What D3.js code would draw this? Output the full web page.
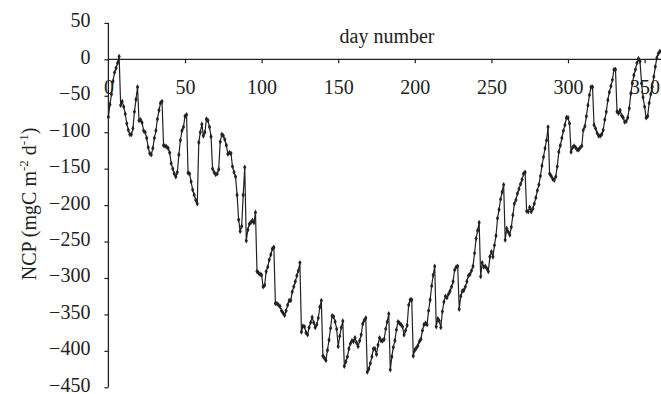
<!DOCTYPE html>
<html lang="en">
<head>
<meta charset="UTF-8">
<title>NCP by day</title>
<script src="https://d3js.org/d3.v7.min.js"></script>
<style>
    body { margin: 0; background: #fff; }
    text { font-family: "Liberation Serif", "Times New Roman", serif; fill: #222; }
</style>
</head>
<body>
<script>
    // NCP (mgC m-2 d-1), one value per day starting at day 0
    const ncp = [
        -79, -62, -48, -30, -18, -12, -5, 4, -63, -58,
        -65, -75, -88, -97, -103, -103, -95, -72, -55, -38,
        -84, -83, -87, -98, -100, -108, -121, -129, -131, -122,
        -108, -98, -82, -70, -60, -58, -118, -119, -120, -122,
        -128, -143, -150, -157, -161, -155, -131, -111, -98, -93,
        -78, -76, -156, -157, -168, -179, -186, -193, -198, -114,
        -100, -89, -105, -100, -82, -84, -93, -106, -150, -155,
        -158, -157, -151, -113, -103, -105, -110, -118, -130, -128,
        -129, -147, -155, -161, -186, -220, -236, -229, -186, -148,
        -249, -234, -226, -224, -221, -224, -210, -291, -293, -295,
        -296, -312, -310, -291, -285, -275, -268, -260, -258, -335,
        -335, -337, -339, -345, -348, -351, -345, -337, -331, -331,
        -319, -312, -305, -297, -290, -279, -374, -366, -367, -375,
        -378, -368, -361, -354, -361, -368, -364, -355, -340, -331,
        -407, -410, -413, -399, -385, -369, -352, -353, -360, -370,
        -394, -380, -368, -359, -421, -415, -408, -397, -390, -386,
        -387, -382, -389, -394, -386, -378, -363, -358, -355, -429,
        -425, -417, -408, -397, -397, -405, -392, -382, -386, -386,
        -384, -370, -360, -349, -426, -408, -395, -386, -371, -360,
        -362, -364, -367, -378, -372, -365, -337, -330, -330, -407,
        -399, -396, -393, -387, -384, -372, -364, -362, -364, -345,
        -330, -311, -296, -284, -367, -356, -359, -368, -346, -333,
        -325, -327, -322, -318, -312, -305, -289, -285, -284, -343,
        -325, -318, -317, -312, -305, -297, -295, -290, -284, -266,
        -246, -235, -224, -298, -279, -285, -284, -287, -291, -271,
        -264, -271, -255, -242, -218, -206, -192, -182, -172, -248,
        -232, -237, -241, -230, -214, -198, -193, -184, -178, -171,
        -165, -157, -155, -208, -209, -203, -209, -205, -198, -190,
        -180, -172, -160, -146, -134, -122, -111, -93, -157, -160,
        -164, -166, -161, -147, -127, -118, -108, -98, -90, -80,
        -80, -88, -127, -121, -119, -121, -124, -124, -121, -119,
        -97, -92, -78, -63, -49, -38, -38, -90, -95, -101,
        -105, -105, -103, -97, -83, -72, -56, -45, -37, -28,
        -14, -14, -72, -74, -70, -77, -80, -86, -85, -80,
        -67, -47, -33, -22, -14, -5, 1, -3, -33, -52,
        -65, -80, -78, -60, -48, -38, -24, -10, 2, 8,
        11
    ];
    const days = ncp.map((v, i) => i);

    const xTicks = [0, 50, 100, 150, 200, 250, 300, 350];
    const yTicks = [50, 0, -50, -100, -150, -200, -250, -300, -350, -400, -450];

    const width = 661, height = 394;

    const svg = d3.select("body").append("svg")
        .attr("width", width)
        .attr("height", height);

    const x = d3.scaleLinear().domain([0, 350]).range([108.4, 644.6]);
    const y = d3.scaleLinear().domain([-450, 50]).range([387.3, 22.9]);

    // y axis
    const yAxis = svg.append("g")
        .attr("transform", `translate(${x(0)},0)`)
        .call(d3.axisLeft(y).tickValues(yTicks).tickSize(4).tickPadding(14)
            .tickFormat(d3.format("d")));
    yAxis.select(".domain").attr("stroke", "#222").attr("stroke-width", 1.3)
        .attr("d", `M0,${y(50)}V${y(-450)}`);
    yAxis.selectAll(".tick line").attr("stroke", "#222").attr("stroke-width", 1.2);
    yAxis.selectAll(".tick text")
        .attr("font-size", 20)
        .attr("font-family", "Liberation Serif, Times New Roman, serif")
        .attr("fill", "#222")
        .attr("dy", "0.2em");

    // x axis sits on the zero line
    const xAxis = svg.append("g")
        .attr("transform", `translate(0,${y(0)})`)
        .call(d3.axisBottom(x).tickValues(xTicks).tickSize(4).tickPadding(16)
            .tickFormat(d3.format("d")));
    xAxis.select(".domain").attr("stroke", "#222").attr("stroke-width", 1.3)
        .attr("d", `M${x(0)},0H${width}`);
    xAxis.selectAll(".tick line").attr("stroke", "#222").attr("stroke-width", 1.2)
        .filter(d => d === 0).remove();
    xAxis.selectAll(".tick text")
        .attr("font-size", 20)
        .attr("font-family", "Liberation Serif, Times New Roman, serif")
        .attr("fill", "#222")
        .attr("dy", "0.71em");

    svg.append("text")
        .attr("x", 387)
        .attr("y", 43)
        .attr("text-anchor", "middle")
        .attr("font-size", 20)
        .text("day number");

    const title = svg.append("text")
        .attr("transform", "translate(36,204) rotate(-90)")
        .attr("text-anchor", "middle")
        .attr("font-size", 20);
    title.append("tspan").text("NCP (mgC m");
    title.append("tspan").attr("font-size", 13).attr("dy", -8).text("-2");
    title.append("tspan").attr("dy", 8).text(" d");
    title.append("tspan").attr("font-size", 13).attr("dy", -8).text("-1");
    title.append("tspan").attr("dy", 8).text(")");

    // series
    const line = d3.line()
        .x((d, i) => x(days[i]))
        .y(d => y(d));

    svg.append("path")
        .datum(ncp)
        .attr("fill", "none")
        .attr("stroke", "#222")
        .attr("stroke-width", 1.2)
        .attr("d", line);

    svg.append("g")
        .selectAll("path")
        .data(ncp)
        .join("path")
        .attr("transform", (d, i) => `translate(${x(days[i])},${y(d)})`)
        .attr("d", d3.symbol().type(d3.symbolDiamond).size(9))
        .attr("fill", "#222");
</script>
</body>
</html>
